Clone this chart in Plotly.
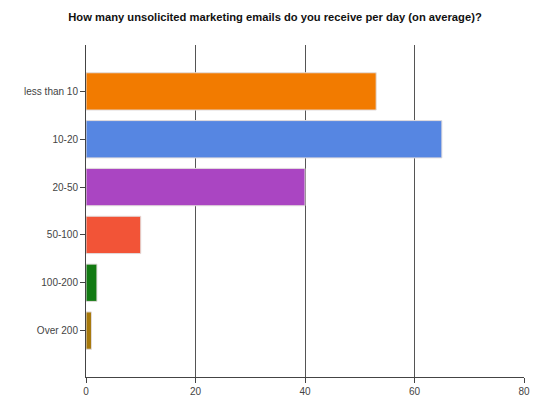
import plotly.graph_objects as go

categories = ["less than 10", "10-20", "20-50", "50-100", "100-200", "Over 200"]
values = [53, 65, 40, 10, 2, 1]
colors = ["#F27B00", "#5686E2", "#AA45C2", "#F25437", "#127A12", "#A6780A"]
x_ticks = [0, 20, 40, 60, 80]

fig = go.Figure(
    go.Bar(
        y=categories,
        x=values,
        orientation="h",
        width=0.78,
        marker=dict(color=colors, line=dict(color="#E2DCDC", width=1)),
    )
)

fig.update_layout(
    width=550,
    height=412,
    margin=dict(l=86, r=26, t=45, b=35),
    paper_bgcolor="white",
    plot_bgcolor="white",
    showlegend=False,
    title=dict(
        text="<b>How many unsolicited marketing emails do you receive per day (on average)?</b>",
        x=0.5,
        xanchor="center",
        y=1 - 17 / 412,
        yanchor="middle",
        font=dict(family="Liberation Sans, Arial, sans-serif", size=11.2, color="#111"),
    ),
    font=dict(family="Liberation Sans, Arial, sans-serif", size=10, color="#444"),
)

fig.update_xaxes(
    range=[0, 80],
    tickvals=x_ticks,
    showgrid=True,
    gridcolor="#555",
    gridwidth=1,
    showline=True,
    linecolor="#444",
    linewidth=1,
    ticks="outside",
    ticklen=5,
    tickcolor="#444",
    zeroline=False,
    fixedrange=True,
)

fig.update_yaxes(
    categoryorder="array",
    categoryarray=categories,
    autorange=False,
    range=[5.97, -0.97],
    showgrid=False,
    showline=True,
    linecolor="#444",
    linewidth=1,
    ticks="outside",
    ticklen=5,
    tickcolor="#444",
    zeroline=False,
    fixedrange=True,
)

fig.write_html("out.html")
